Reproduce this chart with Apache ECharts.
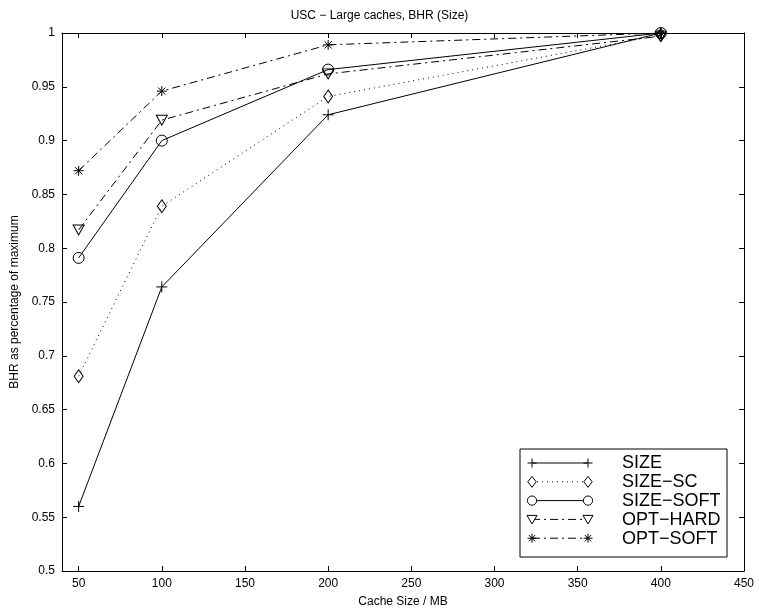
<!DOCTYPE html>
<html>
<head>
<meta charset="utf-8">
<script src="https://cdn.jsdelivr.net/npm/echarts@6/dist/echarts.min.js"></script>
<style>
html,body{margin:0;padding:0;background:#fff;}
#chart{width:759px;height:616px;}
</style>
</head>
<body>
<div id="chart"></div>
<script>
// ---- data ----
var cacheSizes = [50, 100, 200, 400];
var seriesNames = ['SIZE', 'SIZE\u2212SC', 'SIZE\u2212SOFT', 'OPT\u2212HARD', 'OPT\u2212SOFT'];
var sizeVals     = [0.560, 0.764, 0.924, 1.000];
var sizeScVals   = [0.681, 0.839, 0.941, 0.998];
var sizeSoftVals = [0.791, 0.900, 0.966, 1.000];
var optHardVals  = [0.817, 0.919, 0.962, 0.997];
var optSoftVals  = [0.872, 0.946, 0.989, 1.000];
var xTicks = [50, 100, 150, 200, 250, 300, 350, 400, 450];
var yTicks = [0.5, 0.55, 0.6, 0.65, 0.7, 0.75, 0.8, 0.85, 0.9, 0.95, 1];

var FONT = '"Liberation Sans", Arial, Helvetica, sans-serif';
var PLUS = 'path://M0,-1L0,1M-1,0L1,0';
var STAR = 'path://M0,-1L0,1M-1,0L1,0M-0.72,-0.72L0.72,0.72M-0.72,0.72L0.72,-0.72';
var TRI = 'path://M-1,-0.85L1,-0.85L0,0.95Z';

function pairs(vals) { return cacheSizes.map(function (x, i) { return [x, vals[i]]; }); }

var styles = [
  { vals: sizeVals, dash: 'solid', symbol: PLUS, size: [11, 11] },
  { vals: sizeScVals, dash: [1, 4], symbol: 'diamond', size: [9, 13] },
  { vals: sizeSoftVals, dash: 'solid', symbol: 'circle', size: [11, 11] },
  { vals: optHardVals, dash: [8, 4, 2, 4], symbol: TRI, size: [11, 10] },
  { vals: optSoftVals, dash: [8, 4, 2, 4], symbol: STAR, size: [10, 10] }
];

var series = styles.map(function (s, i) {
  return {
    name: seriesNames[i],
    type: 'line',
    xAxisIndex: 0, yAxisIndex: 0,
    data: pairs(s.vals),
    symbol: s.symbol,
    symbolSize: s.size,
    showAllSymbol: true,
    lineStyle: { color: '#000', width: 1, type: s.dash },
    itemStyle: { color: 'rgba(0,0,0,0)', borderColor: '#000', borderWidth: 1 },
    emphasis: { disabled: true },
    animation: false,
    z: 3
  };
});

function lineEl(x1, y1, x2, y2) {
  return { type: 'line', shape: { x1: x1, y1: y1, x2: x2, y2: y2 }, style: { stroke: '#000', lineWidth: 1 }, z: 12 };
}

function markerGraphic(kind, cx, cy) {
  if (kind === 0) {
    return [lineEl(cx, cy - 4.5, cx, cy + 4.5), lineEl(cx - 4.5, cy, cx + 4.5, cy)];
  }
  if (kind === 1) {
    return [{ type: 'polygon', shape: { points: [[cx, cy - 5.5], [cx + 4.2, cy], [cx, cy + 5.5], [cx - 4.2, cy]] }, style: { stroke: '#000', lineWidth: 1, fill: '#fff' }, z: 12 }];
  }
  if (kind === 2) {
    return [{ type: 'circle', shape: { cx: cx, cy: cy, r: 4.6 }, style: { stroke: '#000', lineWidth: 1, fill: '#fff' }, z: 12 }];
  }
  if (kind === 3) {
    return [{ type: 'polygon', shape: { points: [[cx - 5, cy - 4], [cx + 5, cy - 4], [cx, cy + 4.5]] }, style: { stroke: '#000', lineWidth: 1, fill: '#fff' }, z: 12 }];
  }
  var r = 4.5, d = 3.2;
  return [lineEl(cx, cy - r, cx, cy + r), lineEl(cx - r, cy, cx + r, cy),
          lineEl(cx - d, cy - d, cx + d, cy + d), lineEl(cx - d, cy + d, cx + d, cy - d)];
}

function buildLegend() {
  var els = [];
  var bx = 520, by = 449, bw = 207, bh = 108;
  els.push({ type: 'rect', shape: { x: bx, y: by, width: bw, height: bh }, style: { fill: '#fff', stroke: '#000', lineWidth: 1 }, z: 10 });
  var x1 = 532, x2 = 588, tx = 622, y0 = 463, dy = 18.8;
  styles.forEach(function (s, i) {
    var y = y0 + i * dy;
    els.push({ type: 'line', shape: { x1: x1, y1: y, x2: x2, y2: y }, style: { stroke: '#000', lineWidth: 1, lineDash: s.dash === 'solid' ? null : s.dash }, z: 11 });
    markerGraphic(i, x1, y).forEach(function (e) { els.push(e); });
    markerGraphic(i, x2, y).forEach(function (e) { els.push(e); });
    els.push({ type: 'text', x: tx, y: y + 0.5, style: { text: seriesNames[i], fontFamily: FONT, fontSize: 18, fill: '#000', verticalAlign: 'middle', align: 'left' }, z: 12 });
  });
  return els;
}

var chart = echarts.init(document.getElementById('chart'), null, { renderer: 'canvas' });

var axisCommon = {
  axisLine: { show: true, onZero: false, lineStyle: { color: '#000', width: 1 } },
  splitLine: { show: false }
};

var gridL = 62, gridT = 33, gridR = 15, gridB = 45;

chart.setOption({
  backgroundColor: '#fff',
  animation: false,
  title: {
    text: 'USC \u2212 Large caches, BHR (Size)',
    left: 'center', top: 5,
    textStyle: { fontFamily: FONT, fontSize: 12, fontWeight: 'normal', color: '#000' }
  },
  grid: { left: gridL, top: gridT, right: gridR, bottom: gridB, containLabel: false },
  xAxis: [
    Object.assign({}, axisCommon, {
      type: 'value', min: 40, max: 450, position: 'bottom',
      name: 'Cache Size / MB', nameLocation: 'middle', nameGap: 25,
      nameTextStyle: { fontFamily: FONT, fontSize: 12, color: '#000' },
      axisTick: { show: true, inside: true, length: 5, lineStyle: { color: '#000' }, customValues: xTicks },
      axisLabel: { fontFamily: FONT, fontSize: 12, color: '#000', margin: 7, customValues: xTicks }
    }),
    Object.assign({}, axisCommon, {
      type: 'value', min: 40, max: 450, position: 'top',
      axisTick: { show: true, inside: true, length: 5, lineStyle: { color: '#000' }, customValues: xTicks },
      axisLabel: { show: false, customValues: xTicks }
    })
  ],
  yAxis: [
    Object.assign({}, axisCommon, {
      type: 'value', min: 0.5, max: 1, interval: 0.05, position: 'left',
      name: 'BHR as percentage of maximum', nameLocation: 'middle', nameGap: 40,
      nameTextStyle: { fontFamily: FONT, fontSize: 12, color: '#000' },
      axisTick: { show: true, inside: true, length: 5, lineStyle: { color: '#000' }, customValues: yTicks },
      axisLabel: {
        fontFamily: FONT, fontSize: 12, color: '#000', margin: 7, customValues: yTicks,
        formatter: function (v) { return String(Math.round(v * 100) / 100); }
      }
    }),
    Object.assign({}, axisCommon, {
      type: 'value', min: 0.5, max: 1, interval: 0.05, position: 'right',
      axisTick: { show: true, inside: true, length: 5, lineStyle: { color: '#000' }, customValues: yTicks },
      axisLabel: { show: false, customValues: yTicks }
    })
  ],
  series: series,
  graphic: buildLegend()
});
</script>
</body>
</html>
